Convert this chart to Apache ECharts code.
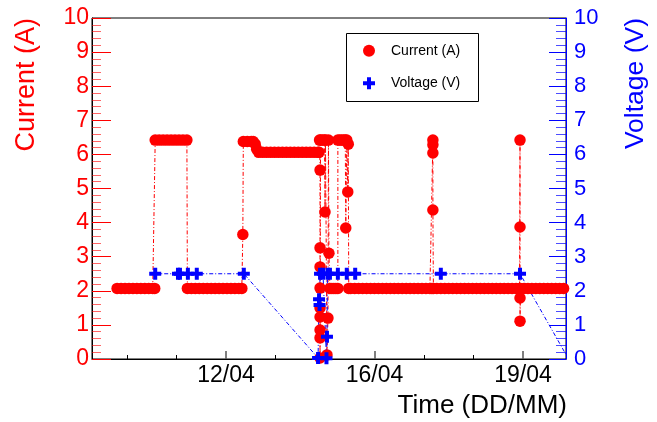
<!DOCTYPE html>
<html>
<head>
<meta charset="utf-8">
<script src="https://cdn.jsdelivr.net/npm/echarts@6/dist/echarts.min.js"></script>
<style>
html,body{margin:0;padding:0;background:#fff;}
#chart{width:657px;height:422px;}
</style>
</head>
<body>
<div id="chart"></div>
<script>
// Time axis in "tick units": 3 -> 12/04, 6 -> 16/04, 9 -> 19/04
var xMin = 0.293, xMax = 9.869;
var xMajorTicks = [3, 6, 9];
var xMajorLabels = ['12/04', '16/04', '19/04'];
var xMinorTicks = [1, 2, 4, 5, 7, 8];

var currentT = [
  0.80,0.88,0.96,1.04,1.12,1.20,1.28,1.36,1.44,1.52,1.56,
  1.57,1.65,1.73,1.81,1.89,1.97,2.05,2.13,2.21,
  2.22,2.30,2.38,2.46,2.54,2.62,2.70,2.78,2.86,2.94,3.02,3.10,3.18,3.26,3.32,
  3.34,
  3.35,3.43,3.51,3.55,
  3.59,3.62,
  3.66,3.74,3.82,3.90,3.98,4.06,4.14,4.22,4.30,4.38,4.46,4.54,4.62,4.70,4.78,4.86,4.88,
  4.89,
  4.90,4.90,4.90,4.90,4.90,4.90,4.90,4.90,4.90,
  4.91,4.95,4.99,5.00,5.01,5.04,5.06,5.07,5.08,
  5.10,5.14,5.18,5.22,5.26,
  5.26,5.30,5.34,5.38,5.41,5.42,5.44,5.46,5.47,5.48,
  5.52,5.60,5.68,5.76,5.84,5.92,6.00,6.08,6.16,6.24,6.32,6.40,6.48,6.56,6.64,6.72,6.80,6.88,6.96,7.04,7.12,7.16,
  7.18,7.18,7.18,7.18,
  7.19,7.26,7.34,7.42,7.50,7.58,7.66,7.74,7.82,7.90,7.98,8.06,8.14,8.22,8.30,8.38,8.46,8.54,8.62,8.70,8.78,8.86,8.93,
  8.94,8.94,8.94,8.94,
  8.95,9.02,9.10,9.18,9.26,9.34,9.42,9.50,9.58,9.66,9.74,9.82,9.90,9.98
];
var currentA = [
  2.07,2.07,2.07,2.07,2.07,2.07,2.07,2.07,2.07,2.07,2.07,
  6.42,6.42,6.42,6.42,6.42,6.42,6.42,6.42,6.42,
  2.07,2.07,2.07,2.07,2.07,2.07,2.07,2.07,2.07,2.07,2.07,2.07,2.07,2.07,2.07,
  3.65,
  6.38,6.38,6.38,6.38,
  6.30,6.15,
  6.06,6.06,6.06,6.06,6.06,6.06,6.06,6.06,6.06,6.06,6.06,6.06,6.06,6.06,6.06,6.06,6.06,
  6.42,
  5.54,3.26,2.70,2.08,1.50,1.23,0.85,0.62,0.03,
  6.42,6.42,6.42,4.31,6.42,0.12,1.20,6.42,3.10,
  2.07,2.07,2.07,2.07,2.07,
  6.42,6.42,6.42,6.42,6.42,3.84,6.42,4.90,6.30,2.07,
  2.07,2.07,2.07,2.07,2.07,2.07,2.07,2.07,2.07,2.07,2.07,2.07,2.07,2.07,2.07,2.07,2.07,2.07,2.07,2.07,2.07,2.07,
  6.42,6.28,6.04,4.37,
  2.07,2.07,2.07,2.07,2.07,2.07,2.07,2.07,2.07,2.07,2.07,2.07,2.07,2.07,2.07,2.07,2.07,2.07,2.07,2.07,2.07,2.07,2.07,
  6.42,3.87,1.79,1.11,
  2.07,2.07,2.07,2.07,2.07,2.07,2.07,2.07,2.07,2.07,2.07,2.07,2.07,2.07
];

var voltageT = [1.57,2.03,2.07,2.23,2.41,3.36,4.86,4.88,4.89,4.90,4.96,5.03,5.04,5.05,5.10,5.26,5.44,5.61,7.34,8.94,9.92];
var voltageV = [2.5,2.5,2.5,2.5,2.5,2.5,0.03,1.75,1.58,2.5,2.5,0.02,0.65,2.5,2.5,2.5,2.5,2.5,2.5,2.5,0];

function pairs(a, b) { var r = []; for (var i = 0; i < a.length; i++) r.push([a[i], b[i]]); return r; }
var crossPath = 'path://M4,0H8V4H12V8H8V12H4V8H0V4H4Z';
var FONT = '"Liberation Sans", Arial, Helvetica, sans-serif';
var RED = '#ff0000', BLUE = '#0000ff';

var chart = echarts.init(document.getElementById('chart'), null, {renderer: 'canvas'});
chart.setOption({
  animation: false,
  backgroundColor: '#ffffff',
  grid: {left: 92, right: 91, top: 18, bottom: 63, show: true, borderColor: '#000', borderWidth: 1, backgroundColor: 'transparent'},
  xAxis: [
    {
      type: 'value', min: xMin, max: xMax, position: 'bottom',
      axisLine: {show: true, onZero: false, lineStyle: {color: '#000', width: 1}},
      axisTick: {show: true, inside: true, length: 8, customValues: xMajorTicks, lineStyle: {color: '#555', width: 1.5}},
      axisLabel: {show: true, customValues: xMajorTicks, margin: 5, color: '#000', fontFamily: FONT, fontSize: 23,
        formatter: function (v) { var i = xMajorTicks.indexOf(Math.round(v)); return i >= 0 ? xMajorLabels[i] : ''; }},
      splitLine: {show: false}
    },
    {
      type: 'value', min: xMin, max: xMax, position: 'bottom', offset: 0,
      axisLine: {show: false, onZero: false},
      axisTick: {show: true, inside: true, length: 4, customValues: xMinorTicks, lineStyle: {color: '#000', width: 1}},
      axisLabel: {show: false},
      splitLine: {show: false}
    }
  ],
  yAxis: [
    {
      type: 'value', min: 0, max: 10, interval: 1, position: 'left',
      axisLine: {show: true, lineStyle: {color: '#000', width: 1}},
      axisTick: {show: true, inside: true, length: 19, lineStyle: {color: RED, width: 1}},
      minorTick: {show: true, splitNumber: 5, length: 9, lineStyle: {color: RED, width: 1, opacity: 0.6}},
      axisLabel: {color: RED, fontFamily: FONT, fontSize: 23, margin: 3},
      splitLine: {show: false}
    },
    {
      type: 'value', min: 0, max: 10, interval: 1, position: 'right',
      axisLine: {show: true, lineStyle: {color: BLUE, width: 1}},
      axisTick: {show: true, inside: true, length: 17, lineStyle: {color: BLUE, width: 1}},
      minorTick: {show: true, splitNumber: 5, length: 10, lineStyle: {color: BLUE, width: 1, opacity: 0.7}},
      axisLabel: {color: BLUE, fontFamily: FONT, fontSize: 22, margin: 8},
      splitLine: {show: false}
    }
  ],
  legend: {
    orient: 'vertical', left: 363, top: 43.7, padding: 0, itemGap: 18.6,
    itemWidth: 12, itemHeight: 12,
    textStyle: {fontFamily: FONT, fontSize: 14, color: '#000', padding: [0, 0, 0, 11]},
    data: [
      {name: 'Current (A)', icon: 'circle'},
      {name: 'Voltage (V)', icon: crossPath}
    ]
  },
  graphic: [
    {type: 'rect', shape: {x: 346.5, y: 33.5, width: 132, height: 68}, style: {fill: 'none', stroke: '#000', lineWidth: 1}, z: 10},
    {type: 'text', x: 27, y: 18, rotation: Math.PI / 2, style: {text: 'Current (A)', fill: RED, font: '27px ' + FONT, align: 'right', verticalAlign: 'middle'}},
    {type: 'text', x: 636, y: 18, rotation: Math.PI / 2, style: {text: 'Voltage (V)', fill: BLUE, font: '26.5px ' + FONT, align: 'right', verticalAlign: 'middle'}},
    {type: 'text', x: 567, y: 406, style: {text: 'Time (DD/MM)', fill: '#000', font: '26px ' + FONT, align: 'right', verticalAlign: 'middle'}}
  ],
  series: [
    {
      name: 'Current (A)', type: 'line', xAxisIndex: 0, yAxisIndex: 0,
      data: pairs(currentT, currentA),
      symbol: 'circle', symbolSize: 11.5, showSymbol: true, clip: true,
      itemStyle: {color: RED},
      lineStyle: {color: RED, width: 1, type: [4, 2, 1, 2]},
      emphasis: {disabled: true}
    },
    {
      name: 'Voltage (V)', type: 'line', xAxisIndex: 0, yAxisIndex: 1,
      data: pairs(voltageT, voltageV),
      symbol: crossPath, symbolSize: 12, showSymbol: true, clip: true,
      itemStyle: {color: BLUE},
      lineStyle: {color: BLUE, width: 1, type: [4, 2, 1, 2]},
      emphasis: {disabled: true}
    }
  ]
});
</script>
</body>
</html>
